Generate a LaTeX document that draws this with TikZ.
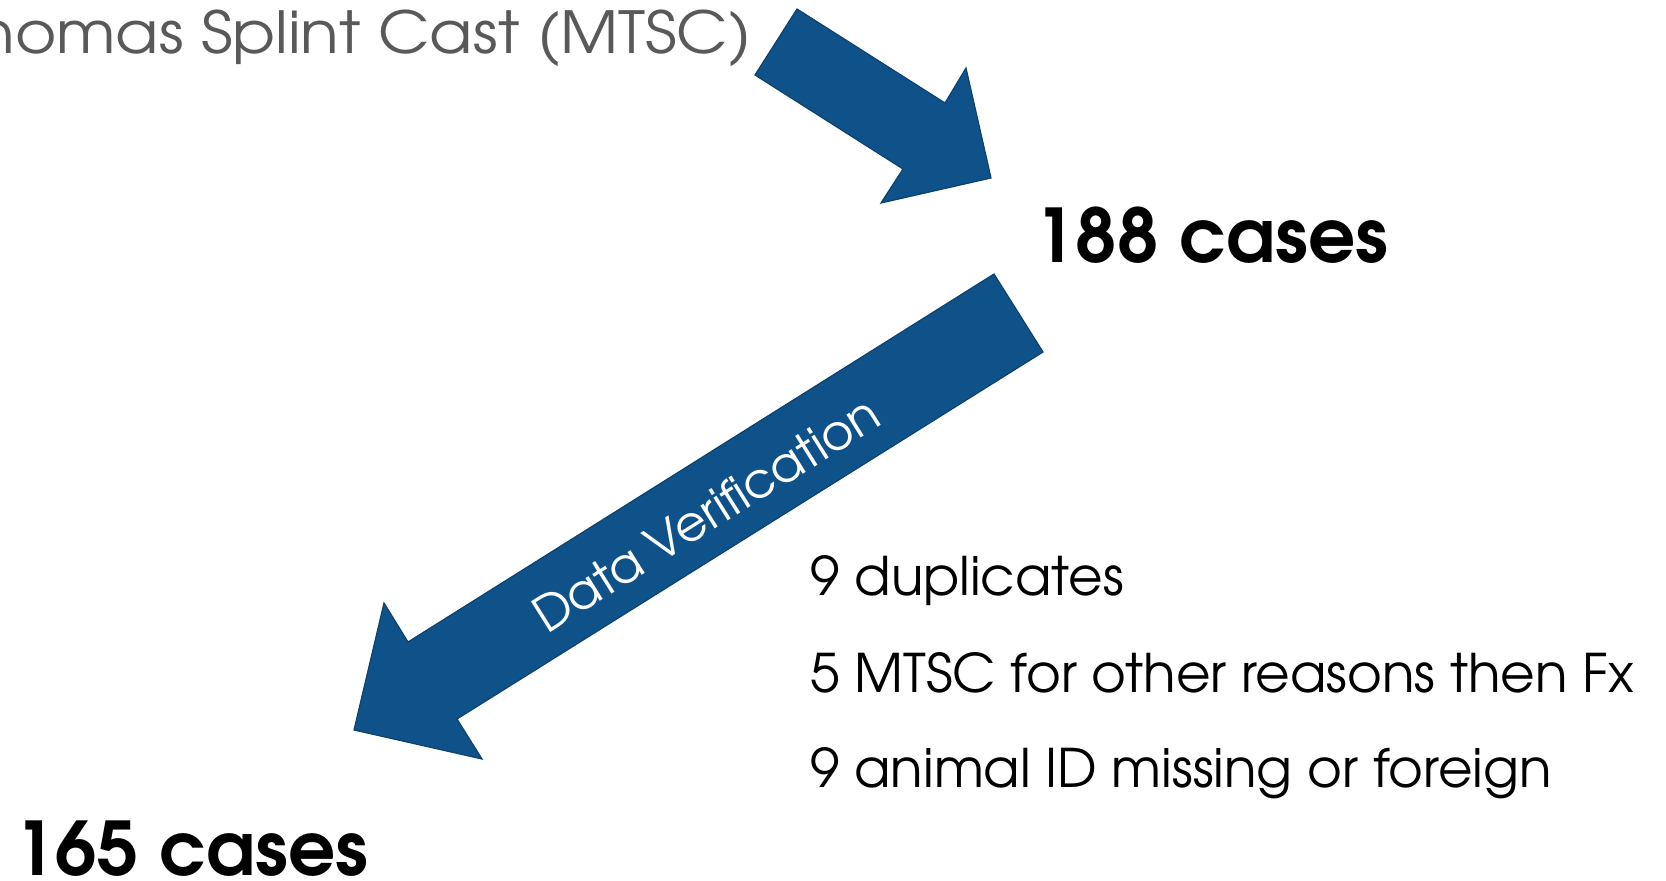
\documentclass[tikz,border=0pt]{standalone}
\usepackage{fontspec}
\setmainfont{texgyreadventor}[Extension=.otf, UprightFont=*-regular, BoldFont=*-bold, ItalicFont=*-italic, BoldItalicFont=*-bolditalic]
\newfontfamily\headingfont{texgyreadventor}[Extension=.otf, UprightFont=*-regular, FakeStretch=1.09]
\usepackage{tikz}
\usetikzlibrary{positioning}
\definecolor{arrowblue}{HTML}{0F528A}
\definecolor{arrowedge}{HTML}{0C426F}
\definecolor{titlegray}{HTML}{595959}
\tikzstyle{bigarrow}=[fill=arrowblue, draw=arrowedge, line width=0.6pt, line join=miter]
\tikzstyle{count}=[font=\fontsize{37}{37}\selectfont\bfseries, inner sep=0pt, anchor=base west]
\tikzstyle{reason}=[font=\fontsize{26.6}{26.6}\selectfont, inner sep=0pt, anchor=base west]
\tikzstyle{heading}=[font=\headingfont\fontsize{29}{29}\selectfont, text=titlegray, inner sep=0pt, anchor=base east]
\tikzstyle{arrowlabel}=[font=\fontsize{24.5}{24.5}\selectfont, text=white, inner sep=0pt, rotate=32.1]

\begin{document}
\begin{tikzpicture}[x=0.5pt, y=0.5pt]
		   \useasboundingbox (0,0) rectangle (1666,880);
		   \clip (0,0) rectangle (1666,880);
		   \begin{scope}
			   \node (mtsc) at (752, 826)[heading] {homas Splint Cast (MTSC)};
			   \node (188) at (1034, 617)[count] {188 cases};
			   \node (165) at (14, 5)[count] {165 cases};
			   \node (dup) at (810, 285)[reason] {9 duplicates};
			   \node (other) at (810, 188)[reason] {5 MTSC for other reasons then Fx};
			   \node (animal) at (810, 93)[reason] {9 animal ID missing or foreign};
		   \end{scope}
		   \begin{scope}
			   \coordinate (a0) at (797, 871);
			   \coordinate (a1) at (945, 777);
			   \coordinate (a2) at (966, 812);
			   \coordinate (a3) at (991, 702);
			   \coordinate (a4) at (881, 677);
			   \coordinate (a5) at (903, 711);
			   \coordinate (a6) at (755, 805);
			   \coordinate (b0) at (994, 606);
			   \coordinate (b1) at (408, 238);
			   \coordinate (b2) at (384, 277);
			   \coordinate (b3) at (354, 150);
			   \coordinate (b4) at (482, 121);
			   \coordinate (b5) at (457, 161);
			   \coordinate (b6) at (1043, 528);
		   \end{scope}
		   \begin{scope}
			   \path [bigarrow] (a0) -- (a1) -- (a2) -- (a3) -- (a4) -- (a5) -- (a6) -- cycle;
			   \path [bigarrow] (b0) -- (b1) -- (b2) -- (b3) -- (b4) -- (b5) -- (b6) -- cycle;
			   \node (verif) at (706, 366)[arrowlabel] {Data Verification};
		   \end{scope}
	   \end{tikzpicture}
\end{document}
